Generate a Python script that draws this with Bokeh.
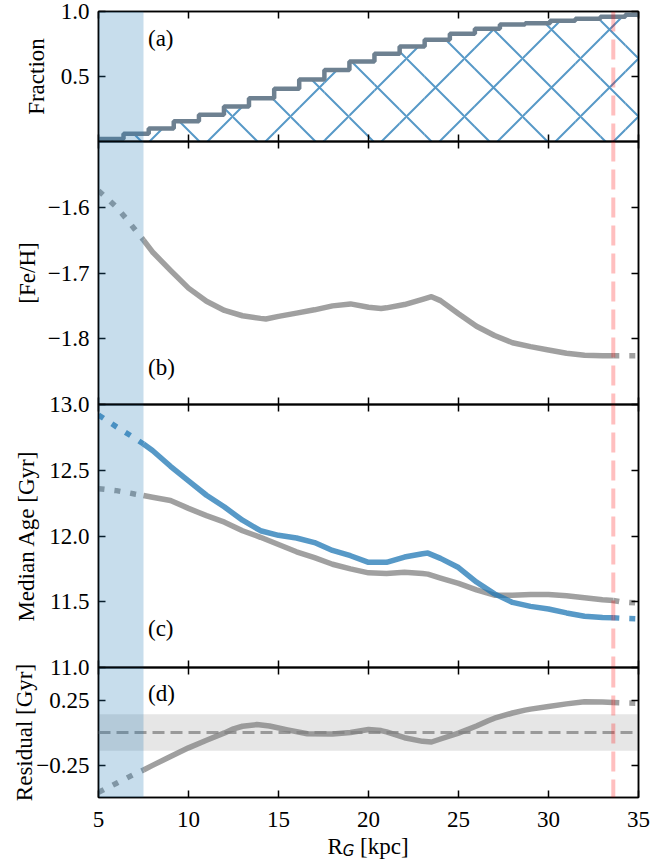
import numpy as np
from bokeh.plotting import figure
from bokeh.models import (Range1d, LinearAxis, FixedTicker, BoxAnnotation, Span, Label,
                          CustomJSTickFormatter, Div)
from bokeh.layouts import column
from bokeh.embed import file_html
from bokeh.resources import INLINE

# ---------------- data ----------------
bin_edges = [5.0, 6.39, 7.79, 9.18, 10.58, 11.97, 13.36, 14.76, 16.15, 17.55, 18.94, 20.33,
             21.73, 23.12, 24.52, 25.91, 27.30, 28.70, 30.09, 31.49, 32.88, 34.27, 35.67]
cum_fraction = [0.02, 0.06, 0.10, 0.156, 0.205, 0.27, 0.333, 0.405, 0.477, 0.55, 0.615, 0.675,
                0.73, 0.782, 0.828, 0.867, 0.90, 0.91, 0.928, 0.944, 0.959, 0.975]

R_feh = [5, 5.5, 6, 6.5, 7, 7.5, 8, 9, 10, 11, 12, 13, 14, 14.3, 15, 16, 17, 18, 19, 20, 20.7,
         21, 22, 23, 23.5, 24, 25, 26, 27, 28, 29, 30, 31, 32, 33, 33.6, 34, 35]
feh = [-1.575, -1.587, -1.600, -1.616, -1.633, -1.650, -1.668, -1.696, -1.723, -1.743, -1.757,
       -1.765, -1.769, -1.770, -1.766, -1.761, -1.756, -1.750, -1.747, -1.752, -1.754, -1.753,
       -1.748, -1.740, -1.736, -1.742, -1.762, -1.781, -1.795, -1.806, -1.812, -1.817, -1.822,
       -1.825, -1.826, -1.826, -1.826, -1.826]

R_age = [5, 6, 7, 7.5, 8, 9, 10, 11, 12, 13, 14, 15, 16, 17, 18, 19, 20, 21, 22, 23, 23.3, 24,
         25, 26, 27, 28, 29, 30, 31, 32, 33, 33.6, 34, 35]
age_blue = [12.92, 12.83, 12.745, 12.70, 12.65, 12.53, 12.42, 12.31, 12.22, 12.12, 12.04, 12.005,
            11.985, 11.95, 11.89, 11.85, 11.80, 11.80, 11.84, 11.865, 11.87, 11.83, 11.76, 11.65,
            11.56, 11.495, 11.465, 11.445, 11.415, 11.39, 11.38, 11.378, 11.375, 11.37]
age_grey = [12.36, 12.345, 12.32, 12.308, 12.295, 12.27, 12.21, 12.155, 12.105, 12.04, 11.99,
            11.935, 11.88, 11.835, 11.785, 11.75, 11.72, 11.715, 11.725, 11.715, 11.71, 11.68,
            11.64, 11.59, 11.55, 11.55, 11.555, 11.555, 11.545, 11.53, 11.515, 11.51, 11.50, 11.49]

R_res = [5, 6, 7, 7.5, 8, 9, 10, 11, 12, 12.5, 13, 13.8, 14.5, 15.5, 16.6, 18, 19, 20, 20.7, 21,
         22, 23, 23.5, 24, 25, 26, 26.65, 27, 28, 28.7, 29, 30, 31, 32, 33, 33.6, 34, 35]
residual = [-0.46, -0.39, -0.32, -0.288, -0.253, -0.185, -0.118, -0.06, -0.003, 0.028, 0.048,
            0.061, 0.05, 0.02, -0.01, -0.012, 0.0, 0.023, 0.015, 0.005, -0.04, -0.068, -0.073,
            -0.05, -0.005, 0.05, 0.09, 0.11, 0.15, 0.172, 0.18, 0.20, 0.22, 0.237, 0.235, 0.23,
            0.228, 0.225]

R_inner = 7.5
R_outer = 33.6
res_band = 0.14

x_ticks = [5, 10, 15, 20, 25, 30, 35]
frac_ticks = [0.5, 1.0]
feh_ticks = [-1.8, -1.7, -1.6]
age_ticks = [11.0, 11.5, 12.0, 12.5, 13.0]
res_ticks = [-0.25, 0.25]

# ---------------- style ----------------
FONT = "Liberation Serif"
FS = "23px"
BLUE = "#1f77b4"
GREY = "#808080"
LW = 5.5

xr = Range1d(5, 35)


def style_axis(ax, ticks, show_labels, digits=1):
    ax.ticker = FixedTicker(ticks=ticks)
    ax.major_tick_in = 7
    ax.major_tick_out = 0
    ax.minor_tick_line_color = None
    ax.major_tick_line_width = 1.5
    ax.major_tick_line_color = "black"
    ax.axis_line_width = 1.5
    ax.axis_line_color = "black"
    ax.major_label_text_font = FONT
    ax.formatter = CustomJSTickFormatter(
        code="return tick.toFixed(%d).replace('-', '\u2212')" % digits)
    if show_labels:
        ax.major_label_text_font_size = FS
        ax.major_label_text_color = "black"
    else:
        ax.major_label_text_font_size = "1px"
        ax.major_label_text_color = None
        ax.major_label_standoff = 0


def make_fig(h, btop, bbot, yr, yticks, ylabel, digits, standoff, xlabels=False):
    p = figure(width=662, height=h, x_range=xr, y_range=Range1d(*yr),
               output_backend="svg", toolbar_location=None,
               min_border_left=98, min_border_right=24,
               min_border_top=btop, min_border_bottom=bbot)
    p.background_fill_color = None
    p.border_fill_color = None
    p.outline_line_color = "black"
    p.outline_line_width = 1.5
    p.xgrid.visible = False
    p.ygrid.visible = False
    style_axis(p.xaxis[0], x_ticks, xlabels, 0)
    if xlabels:
        p.xaxis[0].major_label_standoff = 14
    top = LinearAxis()
    style_axis(top, x_ticks, False)
    p.add_layout(top, "above")
    style_axis(p.yaxis[0], yticks, True, digits)
    p.yaxis[0].major_label_standoff = 9
    p.yaxis[0].axis_label = ylabel
    p.yaxis[0].axis_label_text_font = FONT
    p.yaxis[0].axis_label_text_font_size = FS
    p.yaxis[0].axis_label_text_font_style = "normal"
    p.yaxis[0].axis_label_text_color = "black"
    p.yaxis[0].axis_label_standoff = standoff
    right = LinearAxis()
    style_axis(right, yticks, False)
    p.add_layout(right, "right")
    return p


def add_common(p):
    p.add_layout(BoxAnnotation(left=5, right=R_inner, fill_color=BLUE, fill_alpha=0.25,
                               line_alpha=0))
    p.add_layout(Span(location=R_outer, dimension="height", line_color="red", line_alpha=0.25,
                      line_width=4, line_dash="20 8"))


def panel_label(p, y, txt):
    p.add_layout(Label(x=7.75, y=y, text=txt, text_font=FONT, text_font_size=FS,
                       text_baseline="middle", text_color="black"))


def split_line(p, R, v, color):
    R = np.asarray(R, dtype=float)
    v = np.asarray(v, dtype=float)
    m_in = R <= R_inner
    m_mid = (R >= R_inner) & (R <= R_outer)
    m_out = R >= R_outer
    p.line(R[m_mid], v[m_mid], line_color=color, line_alpha=0.75, line_width=LW,
           line_join="round")
    for m in (m_in, m_out):
        p.line(R[m], v[m], line_color=color, line_alpha=0.75, line_width=LW,
               line_dash="6 10")


# ---------------- panel (a) ----------------
pa = make_fig(151, 11, 10, (0, 1), frac_ticks, "Fraction", 1, 9)
pa.quad(left=bin_edges[:-1], right=bin_edges[1:], bottom=0, top=cum_fraction,
        fill_alpha=0, line_alpha=0, hatch_pattern="x", hatch_color=BLUE, hatch_alpha=0.75,
        hatch_weight=2, hatch_scale=58)
pa.step(x=bin_edges, y=cum_fraction + [cum_fraction[-1]], mode="after",
        line_color="#6e8191", line_width=4.5)
add_common(pa)
panel_label(pa, 0.79, "(a)")

# ---------------- panel (b) ----------------
pb = make_fig(283, 10, 10, (-1.9, -1.5), feh_ticks, "[Fe/H]", 1, 5)
split_line(pb, R_feh, feh, GREY)
add_common(pb)
panel_label(pb, -1.844, "(b)")

# ---------------- panel (c) ----------------
pc = make_fig(291, 14, 14, (11, 13), age_ticks, "Median Age [Gyr]", 1, 7)
split_line(pc, R_age, age_grey, GREY)
split_line(pc, R_age, age_blue, BLUE)
add_common(pc)
panel_label(pc, 11.297, "(c)")

# ---------------- panel (d) ----------------
pd_ = make_fig(182, 10, 42, (-0.5, 0.5), res_ticks, "Residual [Gyr]", 2, -4, xlabels=True)
pd_.add_layout(BoxAnnotation(bottom=-res_band, top=res_band, fill_color=GREY, fill_alpha=0.2,
                             line_alpha=0, level="underlay"))
pd_.add_layout(Span(location=0, dimension="width", line_color=GREY, line_alpha=0.75,
                    line_width=3, line_dash="12 6"))
split_line(pd_, R_res, residual, GREY)
add_common(pd_)
panel_label(pd_, 0.303, "(d)")

# x axis label R_G [kpc] as real HTML text under the bottom panel
xlabel = Div(
    text=('R<span style="font-family:\'DejaVu Sans\';font-style:italic;font-size:15px;'
          'position:relative;top:2px;">G</span> [kpc]'),
    width=540, height=21, margin=(0, 0, 0, 98),
    styles={"font-family": "'Liberation Serif'", "font-size": "23px",
            "line-height": "15px", "text-align": "center", "color": "black"})

pa.margin = (0, 0, 0, 0)
pb.margin = (-20, 0, 0, 0)
pc.margin = (-24, 0, 0, 0)
pd_.margin = (-24, 0, 0, 0)

layout = column(pa, pb, pc, pd_, xlabel, spacing=0)

open("out.html", "w").write(file_html(layout, INLINE))
